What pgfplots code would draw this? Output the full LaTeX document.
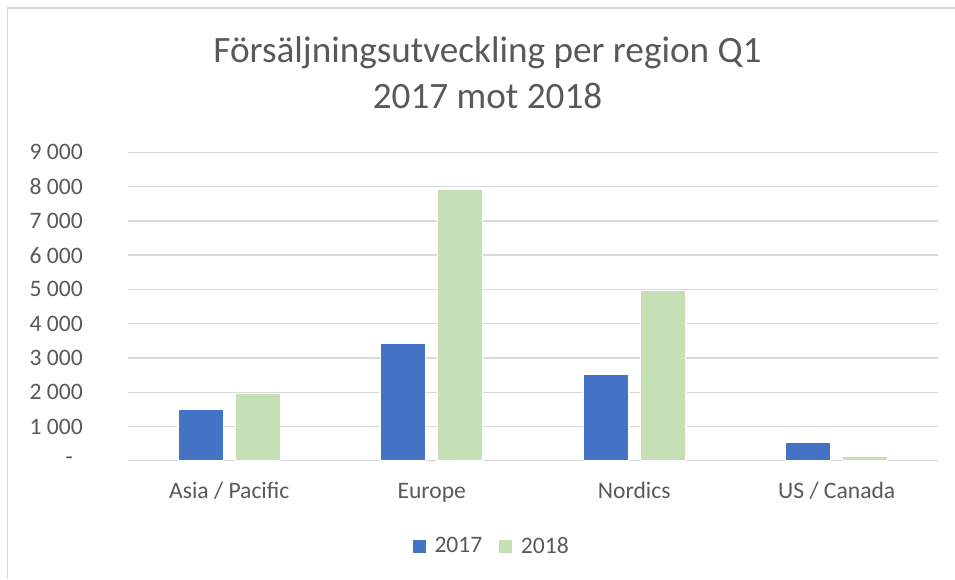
\documentclass[border=0pt]{standalone}
\usepackage{fontspec}
\setmainfont{Carlito}
\usepackage{pgfplots}
\pgfplotsset{compat=1.18}
\definecolor{txt}{HTML}{595959}
\definecolor{grd}{HTML}{D9D9D9}
\definecolor{c17}{HTML}{4472C4}
\definecolor{c18}{HTML}{C5E0B4}

\begin{document}
\begin{tikzpicture}[x=0.75pt,y=-0.75pt]
% picture frame in screenshot pixels
\path[use as bounding box] (0,0) rectangle (955,579);
\draw[grd, line width=1.2pt] (7.5,579) -- (7.5,8) -- (955,8);
\node[anchor=base, text=txt, font=\fontsize{27.9}{33}\selectfont, inner sep=0pt] at (487.5,62.7) {Försäljningsutveckling per region Q1};
\node[anchor=base, text=txt, font=\fontsize{27.9}{33}\selectfont, inner sep=0pt] at (487.5,108.3) {2017 mot 2018};

\begin{axis}[at={(96pt,-345.525pt)}, anchor=south west,
  width=607.5pt, height=231.3pt, scale only axis,
  xmin=-0.5, xmax=3.5, ymin=0, ymax=9000,
  ybar=9pt, bar width=33.75pt,
  xtick={0,1,2,3},
  xticklabels={Asia / Pacific, Europe, Nordics, US / Canada},
  ytick={0,1000,...,9000},
  yticklabels={-\rule{7.5pt}{0pt}, 1 000, 2 000, 3 000, 4 000, 5 000, 6 000, 7 000, 8 000, 9 000},
  ymajorgrids, grid style={grd, line width=1pt},
  axis line style={draw=none}, major tick length=0pt, tick style={draw=none},
  tick label style={font=\fontsize{17.7}{21}\selectfont, text=txt},
  yticklabel style={anchor=east, inner sep=0pt, xshift=-33.75pt},
  xticklabel style={anchor=base, inner sep=0pt, yshift=-28.7pt},
  legend style={at={(0.449,-0.277)}, anchor=center, draw=none, fill=none,
    font=\fontsize{17.7}{21}\selectfont, text=txt,
    /tikz/every odd column/.append style={column sep=4pt},
    /tikz/every even column/.append style={column sep=10pt}},
  legend columns=2,
  legend image code/.code={\fill[#1] (0pt,-5.25pt) rectangle (10.5pt,5.25pt);},
]
\addplot[fill=c17, draw=white, line width=0.4pt] coordinates {(0,1500) (1,3425) (2,2520) (3,545)};
\addlegendentry{2017}
\addplot[fill=c18, draw=white, line width=0.4pt] coordinates {(0,1970) (1,7920) (2,4960) (3,117)};
\addlegendentry{2018}
\end{axis}
\end{tikzpicture}
\end{document}
